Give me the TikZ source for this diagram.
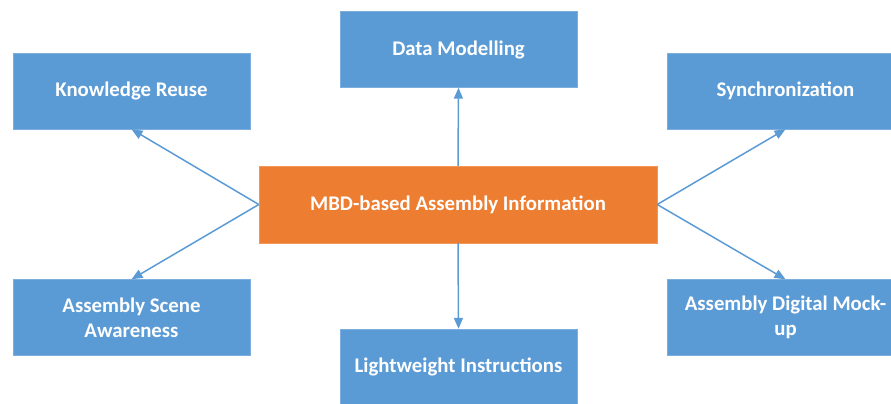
\documentclass[tikz,border=0pt]{standalone}
\usepackage{fontspec}
\setmainfont{Carlito}
\usetikzlibrary{arrows.meta}
\definecolor{boxblue}{HTML}{5B9BD5}
\definecolor{boxorange}{HTML}{ED7D31}
\tikzset{>={Triangle[length=11pt, width=9pt]}}
\tikzstyle{topic} = [rectangle, text centered, align = center, fill = boxblue, draw = boxblue!80!white, text = white, font = \fontsize{20.8}{25}\selectfont\bfseries, minimum width = 237pt, minimum height = 76pt, inner sep = 0pt]
\tikzstyle{core} = [topic, fill = boxorange, draw = boxorange!80!white, minimum width = 398pt, minimum height = 77pt]
\tikzstyle{link} = [->, draw = boxblue, line width = 1.5pt]

\begin{document}
\begin{tikzpicture}[x = 1pt, y = -1pt]
    \useasboundingbox (0,0) rectangle (891,404);
    \clip (0,0) rectangle (891,404);
    \node (mbd) [core] at (458,204.5) {MBD-based Assembly Information};
    \node (modelling) [topic] at (458.5,49.5) {Data Modelling};
    \node (reuse) [topic] at (131.5,91) {Knowledge Reuse};
    \node (sync) [topic] at (785.5,91) {Synchronization};
    \node (scene) [topic] at (131.5,317.5) {Assembly Scene\\Awareness};
    \node (mockup) [topic] at (785.5,317.5) {Assembly Digital Mock-\\up};
    \node (light) [topic] at (458.5,367) {Lightweight Instructions};

    \draw [link] (mbd.north) -- (modelling.south);
    \draw [link] (mbd.south) -- (light.north);
    \draw [link] (mbd.west) -- (reuse.south);
    \draw [link] (mbd.west) -- (scene.north);
    \draw [link] (mbd.east) -- (sync.south);
    \draw [link] (mbd.east) -- (mockup.north);
\end{tikzpicture}
\end{document}
